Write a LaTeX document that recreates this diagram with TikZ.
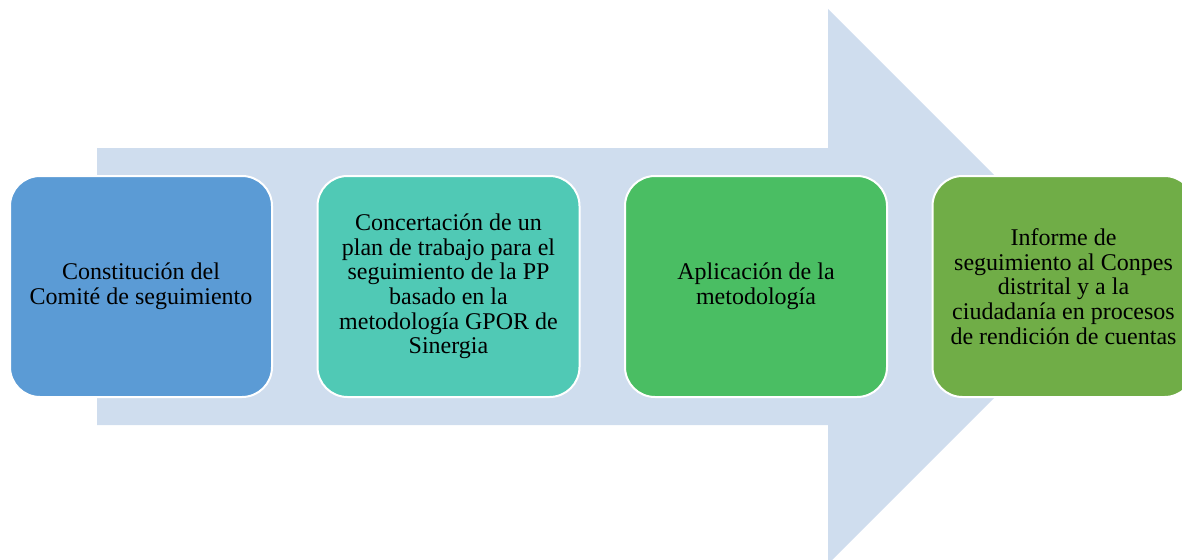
\documentclass[tikz,border=0pt]{standalone}
\usepackage{fontspec}
\setmainfont{Liberation Serif}
\usepackage{xcolor}
\usepackage{tikz}
\usetikzlibrary{positioning}
\definecolor{arrowbg}{HTML}{CFDDEE}
\definecolor{stageblue}{HTML}{5B9BD5}
\definecolor{stageteal}{HTML}{50C9B5}
\definecolor{stagegreen}{HTML}{4ABE63}
\definecolor{stageolive}{HTML}{70AD47}
\tikzstyle{stage} = [rectangle, rounded corners=30pt,
minimum width=262pt,
minimum height=221pt,
outer sep=0pt,
text centered,
align=center,
draw=white,
line width=2pt,
font=\fontsize{24}{24.6}\selectfont]

\begin{document}
\begin{tikzpicture}[x=1pt, y=-1pt, node distance=45.5pt]
\useasboundingbox (0,0) rectangle (1182,559);

% big background arrow
\fill [arrowbg] (97,148) -- (828,148) -- (828,9) -- (1105.5,286.5)
  -- (828,564) -- (828,425) -- (97,425) -- cycle;

\node (constitucion) [stage, fill=stageblue] at (141,286.5) {Constitución del\\
Comité de seguimiento};
\node (concertacion) [stage, fill=stageteal, right=of constitucion] {Concertación de un\\
plan de trabajo para el\\
seguimiento de la PP\\
basado en la\\
metodología GPOR de\\
Sinergia};
\node (aplicacion) [stage, fill=stagegreen, right=of concertacion] {Aplicación de la\\
metodología};
\node (informe) [stage, fill=stageolive, right=of aplicacion] {Informe de\\
seguimiento al Conpes\\
distrital y a la\\
ciudadanía en procesos\\
de rendición de cuentas};

\end{tikzpicture}
\end{document}
